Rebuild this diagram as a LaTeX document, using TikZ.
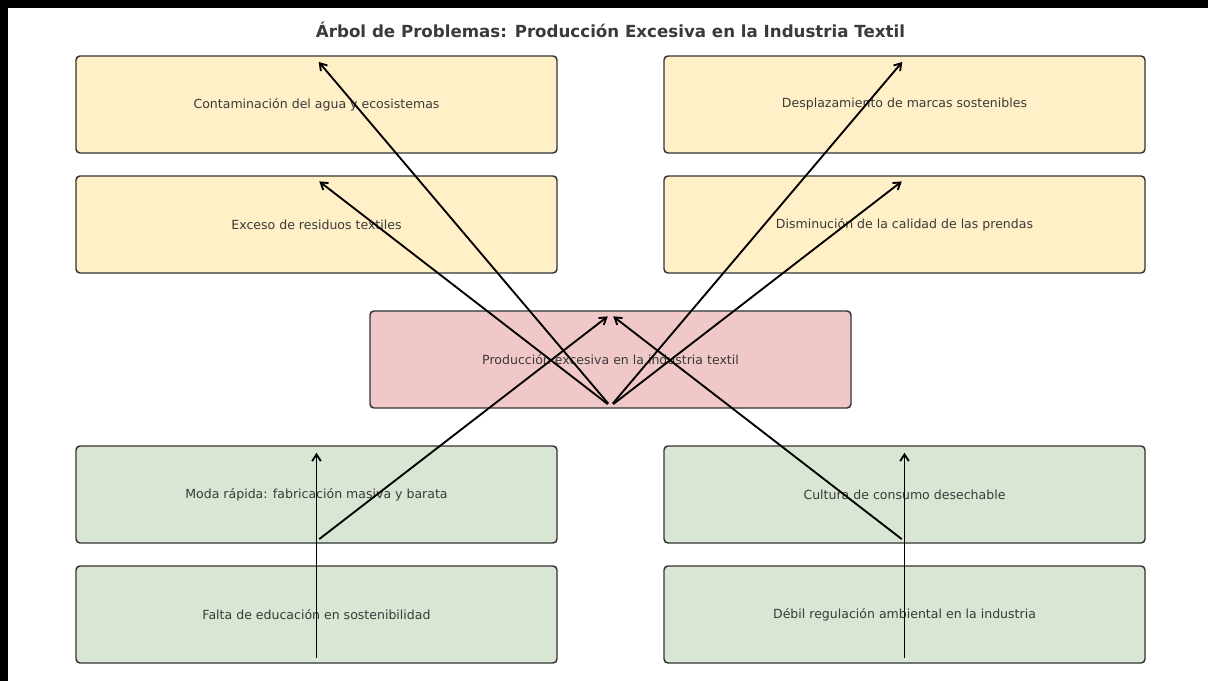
\documentclass[tikz,border=0pt]{standalone}
\usepackage{fontspec}
\setmainfont{DejaVu Sans}
\usetikzlibrary{arrows.meta,calc}
\definecolor{effectfill}{HTML}{FFF0C8}
\definecolor{corefill}{HTML}{F0C8C8}
\definecolor{causefill}{HTML}{D8E6D3}
\definecolor{edgegray}{HTML}{333333}
\definecolor{txtgray}{HTML}{3A3A3A}
\begin{document}
\begin{tikzpicture}[x=0.75pt,y=-0.75pt,
  treebox/.style={draw=edgegray, line width=1.1pt, rounded corners=3pt,
    minimum width=360.75pt, minimum height=72.75pt, inner sep=0pt,
    text=txtgray, font=\fontsize{9.4pt}{11pt}\selectfont},
  effect/.style={treebox, fill=effectfill},
  core/.style={treebox, fill=corefill},
  cause/.style={treebox, fill=causefill},
  link/.style={-{Straight Barb[length=5pt,width=6.5pt,line width=1.4pt]},
    line width=1.4pt, black, shorten >=2.6pt, shorten <=2.6pt}]
% page area and dark frame strips
\useasboundingbox (0,0) rectangle (1208,681);
\fill[white] (0,0) rectangle (1208,681);
\fill[black] (0,0) rectangle (1208,8);
\fill[black] (0,0) rectangle (8,681);

\node[text=txtgray, font=\fontsize{12.5pt}{14pt}\selectfont\bfseries] (title) at (610.5,30)
  {Árbol de Problemas: Producción Excesiva en la Industria Textil};

% effects
\node[effect] (e1) at (316.5,104.5) {Contaminación del agua y ecosistemas};
\node[effect] (e2) at (904.5,104.5) {Desplazamiento de marcas sostenibles};
\node[effect] (e3) at (316.5,224.5) {Exceso de residuos textiles};
\node[effect] (e4) at (904.5,224.5) {Disminución de la calidad de las prendas};
% central problem
\node[core] (p) at (610.5,359.5) {Producción excesiva en la industria textil};
% causes
\node[cause] (c1) at (316.5,494.5) {Moda rápida: fabricación masiva y barata};
\node[cause] (c2) at (904.5,494.5) {Cultura de consumo desechable};
\node[cause] (c3) at (316.5,614.5) {Falta de educación en sostenibilidad};
\node[cause] (c4) at (904.5,614.5) {Débil regulación ambiental en la industria};

% problem -> effects
\draw[link] ($(p.south)+(0,-2.5)$) -- ($(e1.north)+(0,4)$);
\draw[link] ($(p.south)+(0,-2.5)$) -- ($(e3.north)+(0,4)$);
\draw[link] ($(p.south)+(0,-2.5)$) -- ($(e2.north)+(0,4)$);
\draw[link] ($(p.south)+(0,-2.5)$) -- ($(e4.north)+(0,4)$);
% causes -> problem
\draw[link] ($(c1.south)+(0,-2.5)$) -- ($(p.north)+(0,4)$);
\draw[link] ($(c2.south)+(0,-2.5)$) -- ($(p.north)+(0,4)$);
\draw[link] ($(c3.south)+(0,-2.5)$) -- ($(c1.north)+(0,4)$);
\draw[link] ($(c4.south)+(0,-2.5)$) -- ($(c2.north)+(0,4)$);
\end{tikzpicture}
\end{document}
